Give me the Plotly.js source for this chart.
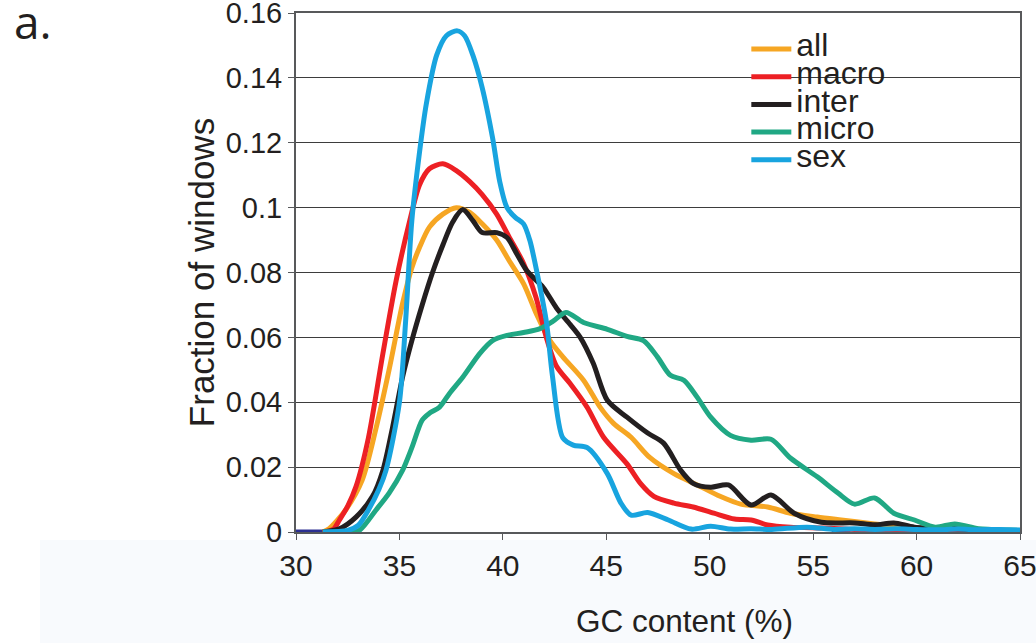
<!DOCTYPE html>
<html>
<head>
<meta charset="utf-8">
<script src="https://cdn.plot.ly/plotly-3.0.1.min.js"></script>
<style>
  html, body { margin: 0; padding: 0; background: #ffffff; }
  #chart { width: 1036px; height: 643px; }
</style>
</head>
<body>
<div id="chart"></div>
<script>
// ---- Data ----
const seriesNames = ["all", "macro", "inter", "micro", "sex"];

// dark-blue baseline series, visible only where the other curves leave the axis
const baseGC = [30, 31.3, null, 55.9, 56.8, null, 59.9, 62.8];
const baseVal = [0, 0, null, 0, 0, null, 0, 0];

const allGC = [31.3, 31.6, 32.4, 33.2, 33.87, 34.5, 35.15, 35.6, 35.97, 36.45, 37.1, 37.75, 38.4, 39.0, 39.7, 40.3, 41.0, 41.64, 42.28, 42.9, 43.9, 44.7, 45.35, 46.2, 47.1, 48.27, 49.4, 50.5, 51.5, 52.8, 53.9, 55.2, 56.36, 57.97, 59.6, 61, 63, 65];
const allVal = [0, 0.001, 0.0068, 0.016, 0.032, 0.050, 0.0704, 0.0815, 0.0877, 0.094, 0.098, 0.100, 0.0985, 0.095, 0.090, 0.0837, 0.0766, 0.067, 0.059, 0.054, 0.0468, 0.0385, 0.0335, 0.0292, 0.023, 0.018, 0.0145, 0.011, 0.0086, 0.0077, 0.0058, 0.0046, 0.0037, 0.0025, 0.0015, 0.0008, 0.0005, 0.0003];

const macroGC = [31.3, 31.8, 32.1, 32.5, 32.9, 33.5, 34.2, 34.84, 35.5, 35.97, 36.45, 37.1, 37.75, 38.4, 39.0, 39.7, 40.3, 41.0, 41.6, 42.1, 42.6, 43.25, 44.07, 44.87, 46.0, 46.65, 47.3, 48.27, 49.2, 50.2, 51.2, 52.0, 52.8, 53.9, 55.5, 57, 58.5, 60, 62, 65];
const macroVal = [0, 0.0008, 0.0037, 0.008, 0.014, 0.029, 0.055, 0.0775, 0.096, 0.107, 0.112, 0.1135, 0.1114, 0.108, 0.104, 0.098, 0.091, 0.0828, 0.0724, 0.060, 0.051, 0.0458, 0.0385, 0.0292, 0.021, 0.015, 0.011, 0.0089, 0.0077, 0.0058, 0.004, 0.0037, 0.0022, 0.0015, 0.0012, 0.0008, 0.0006, 0.0005, 0.0004, 0.0003];

const interGC = [31.3, 32.1, 32.9, 33.7, 34.2, 34.66, 35.15, 35.6, 36.1, 36.6, 37.1, 37.57, 38.06, 38.55, 39.0, 39.7, 40.2, 40.67, 41.15, 41.95, 42.6, 43.25, 43.74, 44.37, 45.05, 46.0, 47.0, 47.77, 48.6, 49.2, 50.05, 50.9, 52.0, 52.96, 54.08, 55.4, 57.0, 57.97, 58.9, 59.9, 62.0, 63.5, 65];
const interVal = [0, 0.001, 0.0046, 0.011, 0.019, 0.032, 0.0477, 0.059, 0.070, 0.080, 0.0885, 0.0955, 0.0994, 0.096, 0.0923, 0.0923, 0.0908, 0.0858, 0.0806, 0.0754, 0.069, 0.064, 0.060, 0.052, 0.0406, 0.0354, 0.0305, 0.0274, 0.019, 0.015, 0.0138, 0.0145, 0.0083, 0.0114, 0.0058, 0.003, 0.0028, 0.0022, 0.0028, 0.0015, 0.001, 0.0005, 0.0003];

const microGC = [31.3, 32.5, 33.06, 33.87, 34.5, 35.15, 35.6, 36.1, 36.45, 36.94, 37.43, 38.06, 38.88, 39.5, 40.2, 41.0, 41.8, 42.43, 43.05, 43.9, 45.05, 46.0, 46.8, 47.47, 48.1, 48.75, 49.4, 50.05, 51.0, 52.0, 52.96, 53.9, 55.2, 56.2, 57.0, 57.97, 58.9, 59.9, 60.9, 61.85, 63.0, 64.5, 65];
const microVal = [0, 0, 0.0005, 0.0068, 0.012, 0.019, 0.026, 0.0345, 0.0366, 0.0385, 0.0428, 0.0477, 0.055, 0.059, 0.0606, 0.0615, 0.0627, 0.065, 0.0677, 0.0646, 0.0625, 0.0603, 0.059, 0.054, 0.0483, 0.0468, 0.0415, 0.0354, 0.0298, 0.0283, 0.0286, 0.0228, 0.017, 0.012, 0.0086, 0.0105, 0.0058, 0.0037, 0.0015, 0.0025, 0.001, 0.0006, 0.0005];

const sexGC = [31.3, 32.5, 33.0, 33.5, 34.0, 34.35, 35.0, 35.3, 35.6, 35.97, 36.3, 36.8, 37.27, 37.8, 38.15, 38.55, 39.0, 39.5, 39.85, 40.2, 40.6, 41.0, 41.3, 41.65, 42.1, 42.4, 42.9, 43.4, 44.08, 45.05, 45.7, 46.2, 47.0, 48.0, 49.1, 50.05, 51.0, 52, 53, 54.7, 56, 57, 58, 59, 60, 61, 62, 63, 64, 65];
const sexVal = [0, 0.0005, 0.002, 0.0068, 0.013, 0.019, 0.040, 0.065, 0.096, 0.117, 0.132, 0.147, 0.153, 0.1545, 0.153, 0.147, 0.137, 0.1216, 0.108, 0.100, 0.097, 0.095, 0.090, 0.080, 0.065, 0.048, 0.029, 0.0268, 0.026, 0.018, 0.009, 0.0052, 0.006, 0.0037, 0.0009, 0.0018, 0.0009, 0.001, 0.0008, 0.0015, 0.0008, 0.001, 0.0008, 0.001, 0.0008, 0.0007, 0.0009, 0.0007, 0.0008, 0.0006];

const xTickVals = [30, 35, 40, 45, 50, 55, 60, 65];
const yTickVals = [0, 0.02, 0.04, 0.06, 0.08, 0.1, 0.12, 0.14, 0.16];
const yTickText = ["0", "0.02", "0.04", "0.06", "0.08", "0.1", "0.12", "0.14", "0.16"];
const xTitle = "GC content (%)";
const yTitle = "Fraction of windows";
const panelLabel = "a.";

// ---- Styling ----
const colors = ["#f6a623", "#ed2024", "#231f20", "#20a884", "#18a4df"];
const FONT = "Liberation Sans, Arial, Helvetica, sans-serif";
const TEXT = "#231f20";

const xs = [allGC, macroGC, interGC, microGC, sexGC];
const ys = [allVal, macroVal, interVal, microVal, sexVal];

const traces = [{
  x: baseGC, y: baseVal, type: "scatter", mode: "lines",
  line: { color: "#2e3192", width: 5 }, showlegend: false, hoverinfo: "skip",
  connectgaps: false
}];
seriesNames.forEach((n, i) => {
  traces.push({
    x: xs[i], y: ys[i], type: "scatter", mode: "lines",
    name: '<span style="font-size:32px">' + n + '</span>',
    line: { color: colors[i], width: 5, shape: "spline", smoothing: 0.8 }
  });
});

const layout = {
  width: 1036, height: 643,
  margin: { l: 296, r: 16, t: 13, b: 111, pad: 0 },
  paper_bgcolor: "#ffffff", plot_bgcolor: "#ffffff",
  font: { family: FONT, color: TEXT },
  showlegend: true,
  legend: {
    x: 0.622, y: 0.967, xanchor: "left", yanchor: "top",
    bgcolor: "rgba(0,0,0,0)", borderwidth: 0,
    font: { family: FONT, size: 19, color: TEXT },
    itemwidth: 40, tracegroupgap: 0
  },
  xaxis: {
    range: [30, 65], tickmode: "array", tickvals: xTickVals,
    ticks: "outside", ticklen: 6, tickwidth: 1, tickcolor: "#58595b",
    showline: true, linecolor: "#58595b", linewidth: 2, mirror: true,
    showgrid: false, zeroline: false,
    tickfont: { family: FONT, size: 30, color: TEXT },
    ticklabelstandoff: 0, ticklabeloverflow: "allow",
    automargin: false
  },
  yaxis: {
    range: [0, 0.16001], tickmode: "array", tickvals: yTickVals, ticktext: yTickText,
    ticks: "outside", ticklen: 6, tickwidth: 1, tickcolor: "#58595b",
    showline: true, linecolor: "#58595b", linewidth: 2, mirror: true,
    showgrid: true, gridcolor: "#3d3d3d", gridwidth: 1, zeroline: false,
    tickfont: { family: FONT, size: 29, color: TEXT },
    ticklabeloverflow: "allow",
    title: { text: yTitle, font: { family: FONT, size: 35, color: TEXT }, standoff: 0 },
    automargin: false
  },
  shapes: [{
    type: "rect", xref: "paper", yref: "paper",
    x0: -0.3536, x1: 1.03, y0: -0.22, y1: -0.0154,
    fillcolor: "#f8fafd", line: { width: 0 }, layer: "below"
  }],
  annotations: [{
    text: panelLabel, xref: "paper", yref: "paper",
    x: -0.392, y: 0.985, xanchor: "left", yanchor: "middle",
    showarrow: false,
    font: { family: "Open Sans, Noto Sans, sans-serif", size: 46, color: TEXT }
  }, {
    text: xTitle, xref: "paper", yref: "paper",
    x: 0.537, y: -0.1715, xanchor: "center", yanchor: "middle",
    showarrow: false,
    font: { family: FONT, size: 31.5, color: TEXT }
  }]
};

Plotly.newPlot("chart", traces, layout, { displayModeBar: false, staticPlot: true });
</script>
</body>
</html>
